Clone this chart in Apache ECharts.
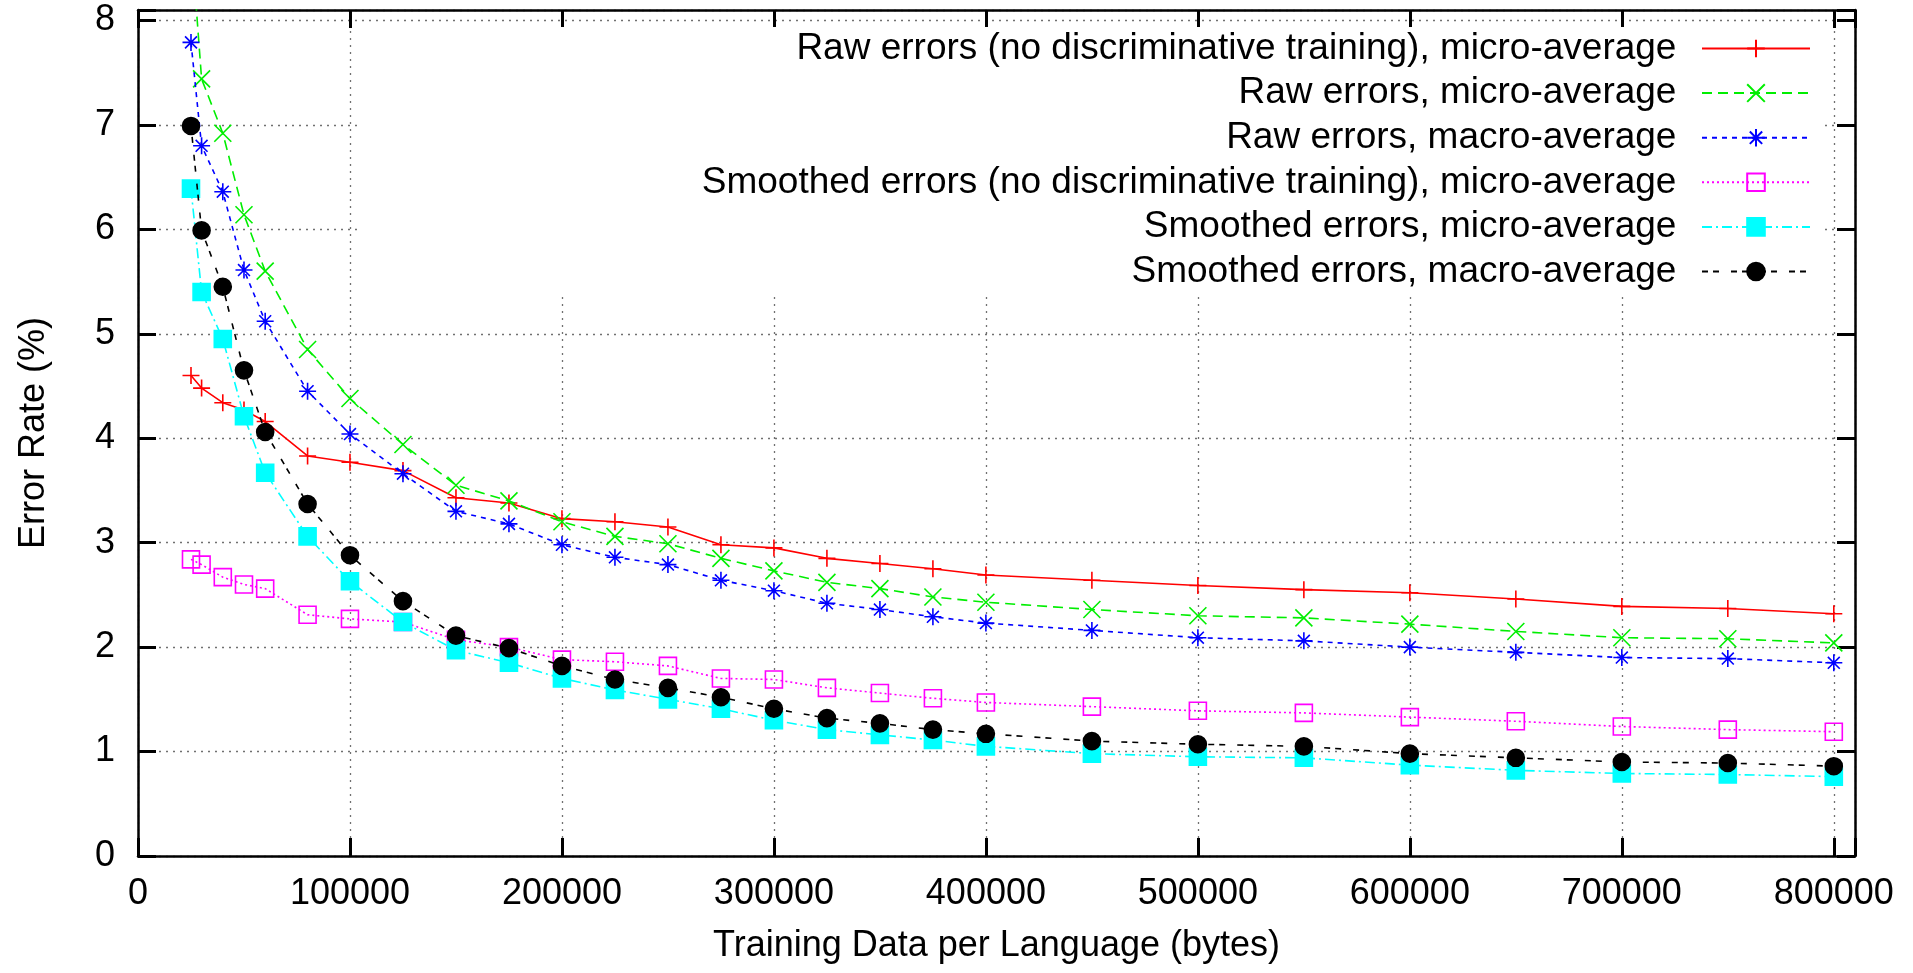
<!DOCTYPE html>
<html>
<head>
<meta charset="utf-8">
<script src="https://cdn.jsdelivr.net/npm/echarts@6/dist/echarts.min.js"></script>
<style>
  html, body { margin: 0; padding: 0; background: #fff; }
  #chart { width: 1913px; height: 973px; }
</style>
</head>
<body>
<div id="chart"></div>
<script>
// ---- Data ----
const trainingBytes = [25000, 30000, 40000, 50000, 60000, 80000, 100000, 125000, 150000, 175000,
  200000, 225000, 250000, 275000, 300000, 325000, 350000, 375000, 400000, 450000,
  500000, 550000, 600000, 650000, 700000, 750000, 800000];

const rawNoDiscMicro = [4.60, 4.48, 4.34, 4.27, 4.16, 3.83, 3.77, 3.69, 3.43, 3.38,
  3.23, 3.20, 3.15, 2.98, 2.95, 2.85, 2.80, 2.75, 2.69, 2.64,
  2.59, 2.55, 2.52, 2.46, 2.39, 2.37, 2.32];
const rawMicro = [8.8, 7.44, 6.92, 6.14, 5.60, 4.85, 4.38, 3.94, 3.55, 3.40,
  3.20, 3.06, 2.99, 2.85, 2.73, 2.62, 2.56, 2.48, 2.43, 2.36,
  2.30, 2.28, 2.22, 2.15, 2.09, 2.08, 2.04];
const rawMacro = [7.79, 6.80, 6.36, 5.61, 5.12, 4.45, 4.04, 3.66, 3.30, 3.18,
  2.98, 2.86, 2.79, 2.64, 2.54, 2.42, 2.36, 2.29, 2.23, 2.16,
  2.09, 2.06, 2.00, 1.95, 1.90, 1.89, 1.85];
const smoothNoDiscMicro = [2.84, 2.79, 2.67, 2.60, 2.56, 2.31, 2.27, 2.24, 2.07, 2.00,
  1.88, 1.86, 1.82, 1.70, 1.69, 1.61, 1.56, 1.51, 1.47, 1.43,
  1.39, 1.37, 1.33, 1.29, 1.24, 1.21, 1.19];
const smoothMicro = [6.39, 5.40, 4.95, 4.21, 3.67, 3.06, 2.63, 2.24, 1.97, 1.85,
  1.70, 1.59, 1.50, 1.41, 1.30, 1.21, 1.16, 1.11, 1.05, 0.98,
  0.95, 0.94, 0.87, 0.82, 0.79, 0.78, 0.76];
const smoothMacro = [6.99, 5.99, 5.45, 4.65, 4.06, 3.37, 2.88, 2.44, 2.11, 1.99,
  1.82, 1.69, 1.61, 1.52, 1.41, 1.32, 1.27, 1.21, 1.17, 1.10,
  1.07, 1.05, 0.98, 0.94, 0.90, 0.89, 0.86];

const seriesNames = [
  'Raw errors (no discriminative training), micro-average',
  'Raw errors, micro-average',
  'Raw errors, macro-average',
  'Smoothed errors (no discriminative training), micro-average',
  'Smoothed errors, micro-average',
  'Smoothed errors, macro-average'
];
const xTickStep = 100000;
const yTickStep = 1;

// ---- Styles ----
const FONT = '"Liberation Sans", Arial, Helvetica, sans-serif';
const SYM_PLUS = 'path://M10,0 L10,20 M0,10 L20,10';
const SYM_CROSS = 'path://M0,0 L20,20 M20,0 L0,20';
const SYM_STAR = 'path://M10,0 L10,20 M0,10 L20,10 M3,3 L17,17 M17,3 L3,17';

const styles = [
  { color: '#ff0000', dash: 'solid', symbol: SYM_PLUS, fill: 'rgba(0,0,0,0)' },
  { color: '#00ee00', dash: [10, 6], symbol: SYM_CROSS, fill: 'rgba(0,0,0,0)' },
  { color: '#0000ff', dash: [5, 5], symbol: SYM_STAR, fill: 'rgba(0,0,0,0)' },
  { color: '#ff00ff', dash: [2, 3], symbol: 'rect', fill: 'rgba(0,0,0,0)' },
  { color: '#00ffff', dash: [10, 4, 2, 4], symbol: 'rect', fill: '#00ffff' },
  { color: '#000000', dash: [6, 5, 6, 12], symbol: 'circle', fill: '#000000' }
];
const values = [rawNoDiscMicro, rawMicro, rawMacro, smoothNoDiscMicro, smoothMicro, smoothMacro];

const series = values.map((vals, i) => ({
  name: seriesNames[i],
  type: 'line',
  xAxisIndex: 0,
  yAxisIndex: 0,
  data: trainingBytes.map((x, j) => [x, vals[j]]),
  symbol: styles[i].symbol,
  symbolSize: 17,
  clip: true,
  showAllSymbol: true,
  lineStyle: { color: styles[i].color, width: 1.6, type: styles[i].dash },
  itemStyle: { color: styles[i].fill, borderColor: styles[i].color, borderWidth: 1.6 },
  emphasis: { disabled: true },
  z: 2 + i
}));

const chart = echarts.init(document.getElementById('chart'), null, { renderer: 'canvas' });

function tick() { return { show: true, inside: true, length: 18, lineStyle: { color: '#000', width: 3 } }; }
function axisLine() { return { show: true, onZero: false, lineStyle: { color: '#000', width: 2.5 } }; }
const splitStyle = { show: true, lineStyle: { color: '#707070', type: [2, 5], width: 1.3 } };

chart.setOption({
  animation: false,
  backgroundColor: '#fff',
  textStyle: { fontFamily: FONT },
  grid: {
    left: 138, right: 58, top: 10, bottom: 117,
    show: false,
    containLabel: false, outerBoundsMode: 'none'
  },
  legend: {
    orient: 'vertical',
    align: 'right',
    right: 88,
    top: 27,
    padding: [3, 14, 2, 343],
    backgroundColor: '#fff',
    itemWidth: 108,
    itemHeight: 22,
    itemGap: 7.6,
    selectedMode: false,
    formatter: name => name + '  ',
    textStyle: { fontSize: 37, fontFamily: FONT, color: '#000', lineHeight: 30 },
    data: seriesNames
  },
  xAxis: [
    {
      type: 'value', position: 'bottom', min: 0, max: 810000, interval: xTickStep,
      axisLine: axisLine(),
      axisTick: tick(),
      splitLine: splitStyle,
      axisLabel: {
        fontSize: 36, fontFamily: FONT, color: '#000', margin: 20,
        formatter: v => (v % xTickStep === 0 ? String(v) : '')
      },
      name: 'Training Data per Language (bytes)',
      nameLocation: 'middle',
      nameGap: 72,
      nameTextStyle: { fontSize: 36, fontFamily: FONT, color: '#000' }
    },
    {
      type: 'value', position: 'top', min: 0, max: 810000, interval: xTickStep,
      axisLine: axisLine(),
      axisTick: tick(),
      splitLine: { show: false },
      axisLabel: { show: false }
    }
  ],
  yAxis: [
    {
      type: 'value', position: 'left', min: 0, max: 8.1, interval: yTickStep,
      axisLine: axisLine(),
      axisTick: tick(),
      splitLine: splitStyle,
      axisLabel: {
        fontSize: 36, fontFamily: FONT, color: '#000', margin: 23,
        formatter: v => (Math.abs(v - Math.round(v)) < 1e-9 ? String(Math.round(v)) : '')
      },
      name: 'Error Rate (%)',
      nameLocation: 'middle',
      nameGap: 86,
      nameTextStyle: { fontSize: 36, fontFamily: FONT, color: '#000' }
    },
    {
      type: 'value', position: 'right', min: 0, max: 8.1, interval: yTickStep,
      axisLine: axisLine(),
      axisTick: tick(),
      splitLine: { show: false },
      axisLabel: { show: false }
    }
  ],
  series: series
});
</script>
</body>
</html>
